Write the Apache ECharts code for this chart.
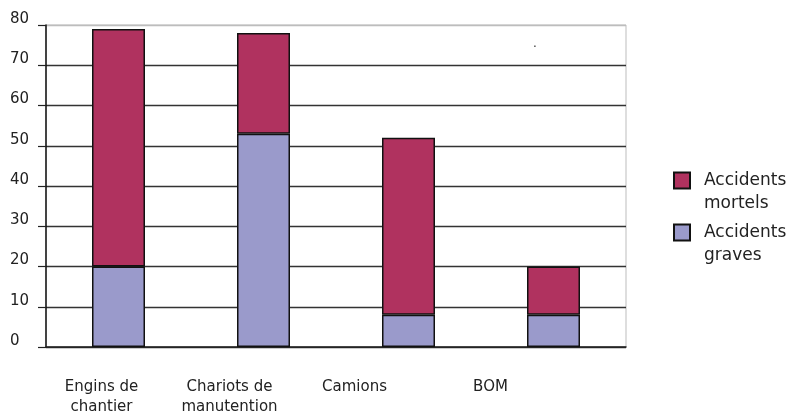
<!DOCTYPE html>
<html>
<head>
<meta charset="utf-8">
<script src="https://cdn.jsdelivr.net/npm/echarts@6/dist/echarts.min.js"></script>
<style>
    html, body { margin: 0; padding: 0; background: #fff; }
    #chart { width: 787px; height: 416px; }
</style>
</head>
<body>
<div id="chart"></div>
<script>
    // données
    const categories = ['Engins de\nchantier', 'Chariots de\nmanutention', 'Camions', 'BOM']
    const graves = [20, 53, 8, 8]
    const mortels = [59, 25, 44, 12]
    const yTicks = [0, 10, 20, 30, 40, 50, 60, 70, 80]

    const colMortels = '#b0325f'
    const colGraves = '#9a9acb'
    const font = 'DejaVu Sans'

    // décalage des libellés vers la gauche, comme sur l'original
    const labelShift = [17, 34, 54, 63]
    let rich = {}
    labelShift.forEach((s, i) => {
        rich['l' + i] = {
            fontFamily: font, fontSize: 15, color: '#222', lineHeight: 20,
            padding: [0, s * 2, 0, 0]
        }
    })

    let chart = echarts.init(document.getElementById('chart'))

    let legendText = {
        fontFamily: font, fontSize: 17, color: '#222', lineHeight: 23,
        rich: {
            t: { fontFamily: font, fontSize: 17, color: '#222', lineHeight: 23, padding: [0, 0, 0, 9] }
        }
    }

    // ligne vide en tête : la 1re ligne du libellé se cale sur le carré
    let legendFmt = n => '{t| }\n' + n.split(' ').map(w => '{t|' + w + '}').join('\n')

    let option = {
        animation: false,
        grid: {
            left: 46, right: 161, top: 25, bottom: 69,
            show: true, borderColor: '#bdbdbd', borderWidth: 1
        },
        legend: [{
            data: ['Accidents mortels'],
            orient: 'vertical', left: 668, top: 141,
            icon: 'rect', itemWidth: 16, itemHeight: 16,
            formatter: legendFmt,
            textStyle: legendText
        }, {
            data: ['Accidents graves'],
            orient: 'vertical', left: 668, top: 193,
            icon: 'rect', itemWidth: 16, itemHeight: 16,
            formatter: legendFmt,
            textStyle: legendText
        }],
        xAxis: {
            type: 'category',
            data: categories,
            axisLine: { lineStyle: { color: '#222', width: 1.5 } },
            axisTick: { length: 6, lineStyle: { color: '#222', width: 1.2 } },
            axisLabel: {
                interval: 0, hideOverlap: false,
                margin: 30,
                formatter: function (value, index) {
                    return value.split('\n').map(l => '{l' + index + '|' + l + '}').join('\n')
                },
                rich: rich
            }
        },
        yAxis: {
            type: 'value',
            min: 0, max: 80, interval: 10,
            axisLine: { show: true, lineStyle: { color: '#111', width: 1.5 } },
            axisTick: { show: true, length: 8, lineStyle: { color: '#222', width: 1.2 } },
            axisLabel: {
                align: 'left', margin: 36, verticalAlign: 'bottom', lineHeight: 12,
                fontFamily: font, fontSize: 15, color: '#222',
                formatter: v => yTicks.indexOf(v) >= 0 ? String(v) : ''
            },
            splitLine: {
                lineStyle: {
                    color: ['#333', '#333', '#333', '#333', '#333', '#333', '#333', '#333', '#bdbdbd'],
                    width: 1.3
                }
            }
        },
        series: [{
            name: 'Accidents graves',
            type: 'bar', stack: 'total',
            barWidth: 53,
            itemStyle: { color: colGraves, borderColor: '#111', borderWidth: 1.5 },
            data: graves
        }, {
            name: 'Accidents mortels',
            type: 'bar', stack: 'total',
            barWidth: 53,
            itemStyle: { color: colMortels, borderColor: '#111', borderWidth: 1.5 },
            data: mortels
        }],
        graphic: [{
            type: 'text', left: 533, top: 38,
            style: { text: '.', fontFamily: font, fontSize: 12, fill: '#333' }
        }]
    }
    chart.setOption(option)
</script>
</body>
</html>
